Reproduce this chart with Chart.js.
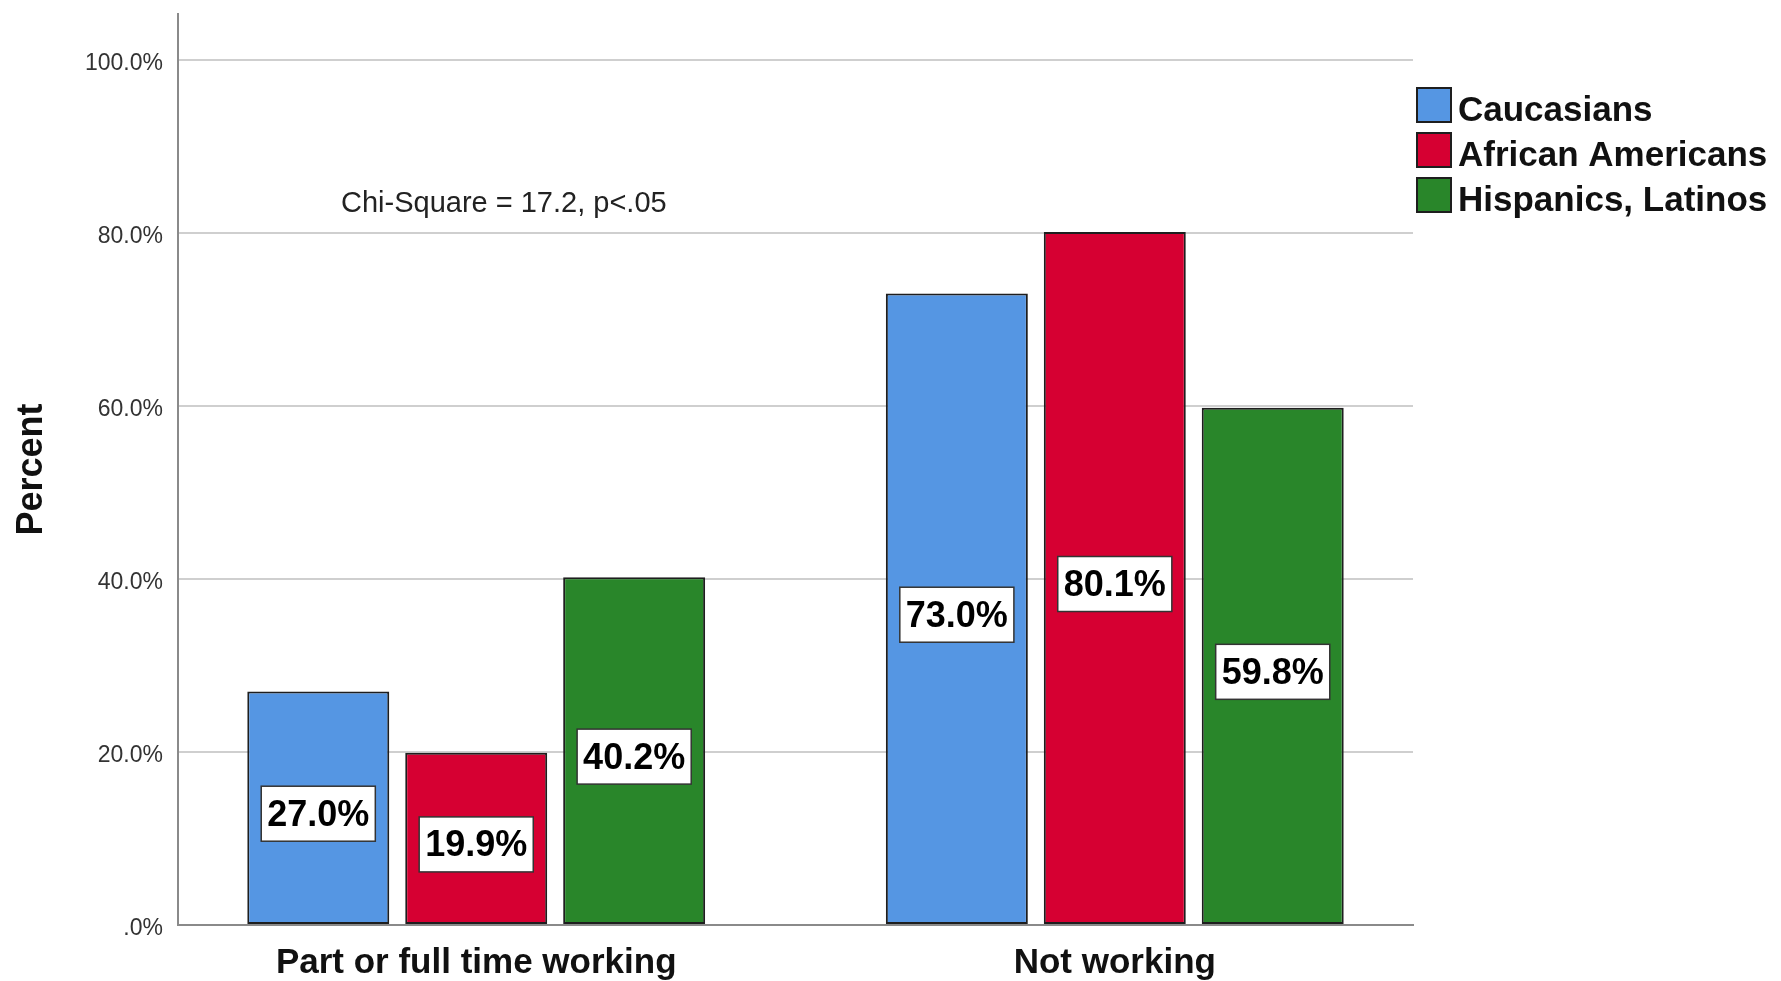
<!DOCTYPE html>
<html>
<head>
<meta charset="utf-8">
<script src="https://cdn.jsdelivr.net/npm/chart.js@4.4.1/dist/chart.umd.min.js"></script>
<style>
    body { margin: 0; background: #fff; }
    canvas { display: block; background: #fff; }
</style>
</head>
<body>
<canvas id="chart" width="1781" height="981"></canvas>
<script>
// data
const categories = ["Part or full time working", "Not working"];
const groups = ["Caucasians", "African Americans", "Hispanics, Latinos"];
const caucasians = [27.0, 73.0];
const africanAmericans = [19.9, 80.1];
const hispanics = [40.2, 59.8];
const yTicks = [0, 20, 40, 60, 80, 100];
const yTickLabels = [".0%", "20.0%", "40.0%", "60.0%", "80.0%", "100.0%"];
const note = "Chi-Square = 17.2, p<.05";

const colors = ["#5596e3", "#d60032", "#29862a"];
const FONT = "'Liberation Sans', Arial, sans-serif";

const series = [caucasians, africanAmericans, hispanics];
const datasets = series.map((values, i) => ({
    label: groups[i],
    data: values.map((v, j) => ({ x: j, y: v })),
    backgroundColor: colors[i],
    borderColor: "#1e1e1e",
    borderWidth: 2,
    borderSkipped: false,
    categoryPercentage: 0.742,
    barPercentage: 0.899,
}));

// value boxes inside the bars
const valueLabels = {
    id: "valueLabels",
    afterDatasetsDraw(chart) {
        const ctx = chart.ctx;
        ctx.save();
        ctx.font = "bold 36px " + FONT;
        ctx.textAlign = "center";
        ctx.textBaseline = "middle";
        chart.data.datasets.forEach((ds, i) => {
            chart.getDatasetMeta(i).data.forEach((bar, j) => {
                const text = ds.data[j].y.toFixed(1) + "%";
                const w = ctx.measureText(text).width + 12;
                const h = 55;
                const cx = bar.x;
                const cy = (bar.y + bar.base) / 2 + 6;
                ctx.fillStyle = "#fff";
                ctx.fillRect(cx - w / 2, cy - h / 2, w, h);
                ctx.strokeStyle = "#333";
                ctx.lineWidth = 1.5;
                ctx.strokeRect(cx - w / 2, cy - h / 2, w, h);
                ctx.fillStyle = "#000";
                ctx.fillText(text, cx, cy + 2);
            });
        });
        ctx.restore();
    },
};

// legend + note
const extras = {
    id: "extras",
    afterDraw(chart) {
        const ctx = chart.ctx;
        ctx.save();
        // legend
        ctx.font = "bold 35px " + FONT;
        ctx.textAlign = "left";
        ctx.textBaseline = "alphabetic";
        groups.forEach((g, i) => {
            const top = 88 + i * 45;
            ctx.fillStyle = colors[i];
            ctx.fillRect(1417, top, 34, 34);
            ctx.strokeStyle = "#1e1e1e";
            ctx.lineWidth = 2;
            ctx.strokeRect(1417, top, 34, 34);
            ctx.fillStyle = "#111";
            ctx.fillText(g, 1458, top + 33);
        });
        // chi-square note
        ctx.font = "29px " + FONT;
        ctx.fillStyle = "#222";
        ctx.textBaseline = "middle";
        ctx.fillText(note, 341, 204);
        ctx.restore();
    },
};

new Chart(document.getElementById("chart"), {
    type: "bar",
    data: { datasets: datasets },
    options: {
        responsive: false,
        animation: false,
        layout: { padding: { top: 14, right: 368, left: 0, bottom: 0 } },
        scales: {
            x: {
                type: "linear",
                min: -0.467,
                max: 1.467,
                offset: false,
                afterFit(scale) {
                    scale.height = 56;
                    scale.paddingLeft = 0;
                    scale.paddingRight = 0;
                },
                afterBuildTicks(scale) {
                    scale.ticks = categories.map((c, i) => ({ value: i }));
                },
                grid: { display: false, drawTicks: false },
                border: { display: true, color: "#8a8a8a", width: 2 },
                ticks: {
                    autoSkip: false,
                    maxRotation: 0,
                    padding: 17,
                    color: "#111",
                    font: { family: FONT, size: 35, weight: "bold" },
                    callback: (v) => categories[v],
                },
            },
            y: {
                min: 0,
                max: 105.3,
                afterFit(scale) {
                    scale.width = 178;
                    scale.paddingTop = 0;
                    scale.paddingBottom = 0;
                },
                afterBuildTicks(scale) {
                    scale.ticks = yTicks.map((v) => ({ value: v }));
                },
                grid: {
                    drawTicks: false,
                    color: (c) => (c.tick && c.tick.value === 0 ? "rgba(0,0,0,0)" : "#cfcfcf"),
                    lineWidth: 2,
                },
                border: { display: true, color: "#8a8a8a", width: 2 },
                ticks: {
                    padding: 15,
                    labelOffset: 4,
                    color: "#333",
                    font: { family: FONT, size: 23 },
                    callback: (v) => yTickLabels[yTicks.indexOf(v)],
                },
                title: {
                    display: true,
                    text: "Percent",
                    color: "#111",
                    font: { family: FONT, size: 36, weight: "bold" },
                    padding: { top: 10, bottom: 0 },
                },
            },
        },
        plugins: {
            legend: { display: false },
            tooltip: { enabled: false },
        },
    },
    plugins: [valueLabels, extras],
});
</script>
</body>
</html>
